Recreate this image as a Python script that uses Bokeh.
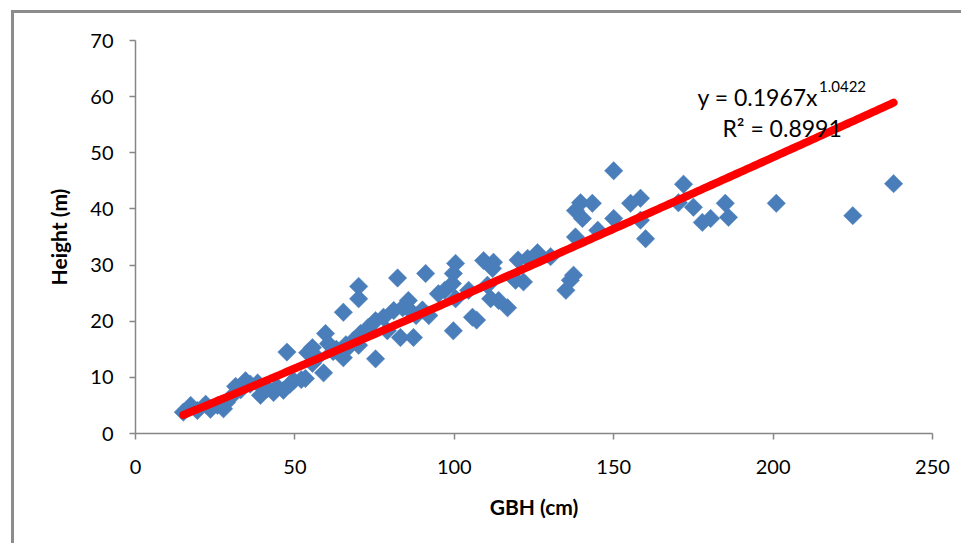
import numpy as np
from bokeh.plotting import figure
from bokeh.models import Range1d, FixedTicker, Label
from bokeh.embed import file_html
from bokeh.resources import INLINE

# ---- data ----
gbh = [15, 17.3, 19.4, 22, 23.5, 25.7, 27.6, 28.5, 29.8, 31.4, 33, 34.5, 36, 38.3, 39.2,
       41.4, 43.3, 44.5, 46.4, 47.5, 48.5, 49.6, 52, 53.3, 54, 55.5, 55.5, 57, 59, 59.6,
       60.5, 62, 63, 65.2, 65.2, 66, 67, 68.4, 70, 70, 70, 70.6, 73, 75.3, 75.3, 77.8,
       79, 81, 82.2, 83.1, 83.8, 85.6, 86, 87.2, 88, 90, 92, 91, 95, 97, 99.4, 99.7,
       100.4, 99.7, 100.4, 104.5, 105.7, 107, 109.2, 110.4, 111.4, 112.3, 112, 113.9,
       116.7, 119.2, 120, 121.7, 123, 126.1, 130.2, 135, 136.4, 137.4, 138, 138, 139.6,
       140.2, 143.3, 145, 150, 150, 155.3, 158.4, 158.4, 160, 170.3, 171.9, 175, 177.8,
       180.4, 185, 186, 201, 225, 237.8]
height = [3.8, 5.0, 4.1, 5.2, 4.3, 5.0, 4.4, 5.5, 6.4, 8.4, 7.8, 9.4, 8.8, 9.0, 6.8,
          8.0, 7.3, 8.3, 7.7, 14.5, 8.8, 9.4, 9.6, 9.8, 14.4, 15.3, 12.5, 13.5, 10.8, 17.8,
          16.0, 14.6, 15.0, 13.5, 21.6, 15.8, 15.5, 16.6, 26.2, 24.0, 15.7, 17.8, 18.9, 20.1, 13.3, 20.7,
          18.3, 21.9, 27.7, 17.1, 22.4, 23.7, 22.0, 17.1, 21.0, 22.0, 21.0, 28.5, 24.9, 25.5, 26.7, 28.5,
          30.3, 18.3, 24.0, 25.5, 20.7, 20.2, 30.8, 26.4, 24.0, 30.5, 29.4, 23.7,
          22.4, 27.3, 30.9, 27.0, 31.2, 32.2, 31.5, 25.5, 27.3, 28.2, 39.7, 35.0, 41.1,
          38.3, 41.0, 36.2, 46.8, 38.3, 41.0, 41.9, 38.0, 34.7, 41.1, 44.4, 40.3, 37.6,
          38.3, 41.0, 38.5, 41.0, 38.8, 44.5]

coef_a = 0.1967
coef_b = 1.0422
r_squared = 0.8991
x_ticks = [0, 50, 100, 150, 200, 250]
y_ticks = [0, 10, 20, 30, 40, 50, 60, 70]

# power trendline from the displayed fit
tx = np.linspace(min(gbh), max(gbh), 200)
ty = coef_a * tx ** coef_b

FONT = "Lato"
AXIS_COLOR = "#868686"

p = figure(width=950, height=533, output_backend="svg", toolbar_location=None,
           x_range=Range1d(0, 250), y_range=Range1d(0, 70),
           min_border_left=121, min_border_right=32, min_border_top=27, min_border_bottom=113)
p.styles = {"margin-left": "11px", "margin-top": "10px",
            "border-left": "3px solid #8c8c8c", "border-top": "3px solid #8c8c8c"}
p.outline_line_color = None
p.grid.visible = False
p.background_fill_color = "white"
p.border_fill_color = "white"

for ax, ticks in ((p.xaxis, x_ticks), (p.yaxis, y_ticks)):
    ax.ticker = FixedTicker(ticks=ticks)
    ax.minor_tick_line_color = None
    ax.major_tick_in = 0
    ax.major_tick_out = 6
    ax.axis_line_color = AXIS_COLOR
    ax.axis_line_width = 1.5
    ax.major_tick_line_color = AXIS_COLOR
    ax.major_tick_line_width = 1.5
    ax.major_label_text_font = FONT
    ax.major_label_text_font_size = "20px"
    ax.major_label_text_color = "black"
    ax.axis_label_text_font = FONT
    ax.axis_label_text_font_size = "21px"
    ax.axis_label_text_font_style = "bold"
    ax.axis_label_text_color = "black"

p.xaxis.axis_label = "GBH (cm)"
p.yaxis.axis_label = "Height (m)"
p.xaxis.major_label_standoff = 20
p.yaxis.major_label_standoff = 16
p.xaxis.axis_label_standoff = 17
p.yaxis.axis_label_standoff = 16

p.scatter(gbh, height, marker="square", angle=np.pi / 4, size=13,
          fill_color="#4a7ebb", line_color="#4a7ebb", line_width=0.5)
p.line(tx, ty, line_color="#ff0000", line_width=8, line_cap="round")

eq_main = Label(x=176.3, y=60.0, text="y = %.4fx" % coef_a, text_font=FONT,
                text_font_size="23px", text_color="black", text_baseline="alphabetic")
eq_sup = Label(x=214.4, y=61.8, text="%.4f" % coef_b, text_font=FONT,
               text_font_size="15px", text_color="black", text_baseline="alphabetic")
eq_r2 = Label(x=184.1, y=54.5, text="R\u00b2 = %.4f" % r_squared, text_font=FONT,
              text_font_size="23px", text_color="black", text_baseline="alphabetic")
for lb in (eq_main, eq_sup, eq_r2):
    p.add_layout(lb)

open("out.html", "w").write(file_html(p, INLINE))
